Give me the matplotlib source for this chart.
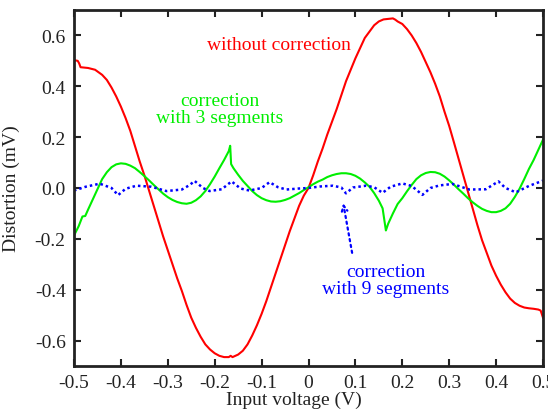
import numpy as np
import matplotlib
matplotlib.use("Agg")
import matplotlib.pyplot as plt

plt.rcParams['font.family'] = ['Liberation Serif', 'DejaVu Serif']
plt.rcParams['axes.unicode_minus'] = False

# without correction
x_raw = [-0.5, -0.492, -0.489, -0.486, -0.47, -0.455, -0.44, -0.43, -0.42, -0.41,
         -0.4, -0.39, -0.38, -0.37, -0.36, -0.35, -0.34, -0.33, -0.32, -0.31,
         -0.3, -0.29, -0.28, -0.27, -0.26, -0.25, -0.24, -0.23, -0.22, -0.21,
         -0.2, -0.19, -0.18, -0.17, -0.166, -0.162, -0.15, -0.14, -0.13, -0.12,
         -0.11, -0.1, -0.09, -0.08, -0.07, -0.06, -0.05, -0.04, -0.03, -0.02,
         -0.01, 0.0, 0.01, 0.02, 0.03, 0.04, 0.05, 0.06, 0.07, 0.08,
         0.09, 0.1, 0.11, 0.12, 0.13, 0.14, 0.15, 0.16, 0.17, 0.18,
         0.185, 0.19, 0.2, 0.21, 0.22, 0.23, 0.24, 0.25, 0.26, 0.27,
         0.28, 0.29, 0.3, 0.31, 0.32, 0.33, 0.34, 0.35, 0.36, 0.37,
         0.38, 0.39, 0.4, 0.41, 0.42, 0.43, 0.44, 0.45, 0.46, 0.47,
         0.48, 0.49, 0.495, 0.5]
y_raw = [0.503, 0.50, 0.49, 0.475, 0.472, 0.465, 0.445, 0.425, 0.395, 0.36,
         0.32, 0.275, 0.225, 0.165, 0.105, 0.05, -0.01, -0.07, -0.13, -0.19,
         -0.245, -0.30, -0.355, -0.405, -0.46, -0.51, -0.55, -0.585, -0.615, -0.635,
         -0.65, -0.66, -0.665, -0.665, -0.66, -0.665, -0.655, -0.64, -0.615, -0.58,
         -0.54, -0.495, -0.445, -0.39, -0.335, -0.28, -0.225, -0.17, -0.12, -0.07,
         -0.03, 0.0, 0.05, 0.105, 0.155, 0.21, 0.26, 0.31, 0.365, 0.42,
         0.465, 0.51, 0.55, 0.59, 0.615, 0.64, 0.655, 0.663, 0.665, 0.667,
         0.662, 0.655, 0.645, 0.625, 0.60, 0.57, 0.535, 0.495, 0.455, 0.41,
         0.36, 0.30, 0.244, 0.18, 0.115, 0.05, -0.015, -0.08, -0.145, -0.205,
         -0.255, -0.305, -0.345, -0.38, -0.41, -0.435, -0.452, -0.463, -0.47, -0.473,
         -0.475, -0.478, -0.482, -0.51]

# correction with 3 segments
x_3 = [-0.5, -0.49, -0.482, -0.476, -0.47, -0.46, -0.45, -0.44, -0.43, -0.42,
       -0.41, -0.4, -0.39, -0.38, -0.37, -0.36, -0.35, -0.34, -0.33, -0.32,
       -0.31, -0.3, -0.29, -0.28, -0.27, -0.26, -0.25, -0.24, -0.23, -0.22,
       -0.21, -0.2, -0.19, -0.18, -0.17, -0.167, -0.165, -0.16, -0.15, -0.14,
       -0.13, -0.12, -0.11, -0.1, -0.09, -0.08, -0.07, -0.06, -0.05, -0.04,
       -0.03, -0.02, -0.01, 0.0, 0.01, 0.02, 0.03, 0.04, 0.05, 0.06,
       0.07, 0.08, 0.09, 0.1, 0.11, 0.12, 0.13, 0.14, 0.15, 0.158,
       0.165, 0.17, 0.18, 0.19, 0.2, 0.21, 0.22, 0.23, 0.24, 0.25,
       0.26, 0.27, 0.28, 0.29, 0.3, 0.31, 0.32, 0.33, 0.34, 0.35,
       0.36, 0.37, 0.38, 0.39, 0.4, 0.41, 0.42, 0.43, 0.44, 0.45,
       0.46, 0.47, 0.48, 0.49, 0.5]
y_3 = [-0.187, -0.15, -0.112, -0.11, -0.085, -0.045, -0.005, 0.035, 0.062, 0.082,
       0.093, 0.097, 0.095, 0.088, 0.078, 0.063, 0.047, 0.03, 0.012, -0.005,
       -0.022, -0.036, -0.047, -0.055, -0.06, -0.062, -0.058, -0.048, -0.033, -0.012,
       0.015, 0.045, 0.078, 0.11, 0.145, 0.166, 0.094, 0.078, 0.052, 0.028,
       0.008, -0.012, -0.028, -0.04, -0.048, -0.053, -0.054, -0.052, -0.047, -0.04,
       -0.03, -0.02, -0.008, 0.003, 0.015, 0.025, 0.033, 0.043, 0.05, 0.055,
       0.058, 0.058, 0.055, 0.048, 0.037, 0.022, 0.005, -0.02, -0.05, -0.08,
       -0.167, -0.14, -0.10, -0.063, -0.04, -0.013, 0.012, 0.035, 0.05, 0.059,
       0.063, 0.062, 0.056, 0.045, 0.03, 0.013, -0.005, -0.022, -0.04, -0.056,
       -0.07, -0.082, -0.09, -0.095, -0.095, -0.09, -0.08, -0.062, -0.035, -0.003,
       0.035, 0.075, 0.11, 0.15, 0.19]

# correction with 9 segments
x_9 = [-0.5, -0.475, -0.445, -0.42, -0.406, -0.39, -0.367, -0.335, -0.303, -0.27,
       -0.253, -0.243, -0.225, -0.211, -0.185, -0.164, -0.145, -0.126, -0.1, -0.083,
       -0.065, -0.047, -0.02, 0.0, 0.025, 0.052, 0.07, 0.08, 0.095, 0.123, 0.14,
       0.158, 0.175, 0.2, 0.22, 0.243, 0.26, 0.279, 0.307, 0.343, 0.378, 0.405,
       0.42, 0.442, 0.47, 0.5]
y_9 = [-0.01, 0.005, 0.017, 0.0, -0.028, -0.003, 0.009, 0.005, -0.012, -0.006,
       0.012, 0.028, 0.0, -0.012, -0.005, 0.026, -0.002, -0.01, 0.0, 0.023,
       0.003, -0.006, -0.002, 0.0, 0.006, 0.009, 0.002, -0.021, 0.002, 0.009, 0.003,
       -0.019, 0.005, 0.018, 0.008, -0.027, 0.0, 0.01, 0.016, -0.006, -0.005, 0.026,
       0.0, -0.017, 0.008, 0.029]

xticks = [-0.5, -0.4, -0.3, -0.2, -0.1, 0, 0.1, 0.2, 0.3, 0.4, 0.5]
xlabels = ["-0.5", "-0.4", "-0.3", "-0.2", "-0.1", "0", "0.1", "0.2", "0.3", "0.4", "0.5"]
yticks = [-0.6, -0.4, -0.2, 0.0, 0.2, 0.4, 0.6]
ylabels = ["-0.6", "-0.4", "-0.2", "0.0", "0.2", "0.4", "0.6"]

red, green, blue = "#ff0000", "#00ee00", "#0000ff"

fig = plt.figure(figsize=(5.48, 4.10), dpi=100)
ax = fig.add_axes([74/548, 43/410, 469/548, 356/410])

ax.plot(x_raw, y_raw, color=red, lw=1.5)
ax.plot(x_3, y_3, color=green, lw=1.5)
ax.plot(x_9, y_9, color=blue, lw=1.8, linestyle=(0, (1, 1.2)))

ax.text(-0.063, 0.565, "without correction", color=red, fontsize=14,
        ha="center", va="center")
ax.text(-0.19, 0.31, "correction\nwith 3 segments", color=green, fontsize=14,
        ha="center", va="center", linespacing=1.0)
ax.text(0.164, -0.36, "correction\nwith 9 segments", color=blue, fontsize=14,
        ha="center", va="center", linespacing=1.0)
ax.annotate("", xy=(0.074, -0.06), xytext=(0.093, -0.255),
            arrowprops=dict(arrowstyle="->", color=blue, lw=1.6, linestyle=":",
                            shrinkA=0, shrinkB=0))

ax.set_xlim(-0.5, 0.5)
ax.set_ylim(-0.7, 0.7)
ax.set_xticks(xticks)
ax.set_xticklabels(xlabels)
ax.set_yticks(yticks)
ax.set_yticklabels(ylabels)
ax.tick_params(direction="in", length=5, width=1.5, top=True, right=True,
               labelsize=14, colors="#222222", pad=6)
for s in ax.spines.values():
    s.set_linewidth(2)
    s.set_color("#222222")

ax.set_xlabel("Input voltage (V)", fontsize=14, color="#222222")
ax.xaxis.set_label_coords((294 - 74) / 469, -0.07)
ax.set_ylabel("Distortion (mV)", fontsize=14, color="#222222")
ax.yaxis.set_label_coords(-0.115, 0.5)

plt.savefig("out.png", dpi=100)
